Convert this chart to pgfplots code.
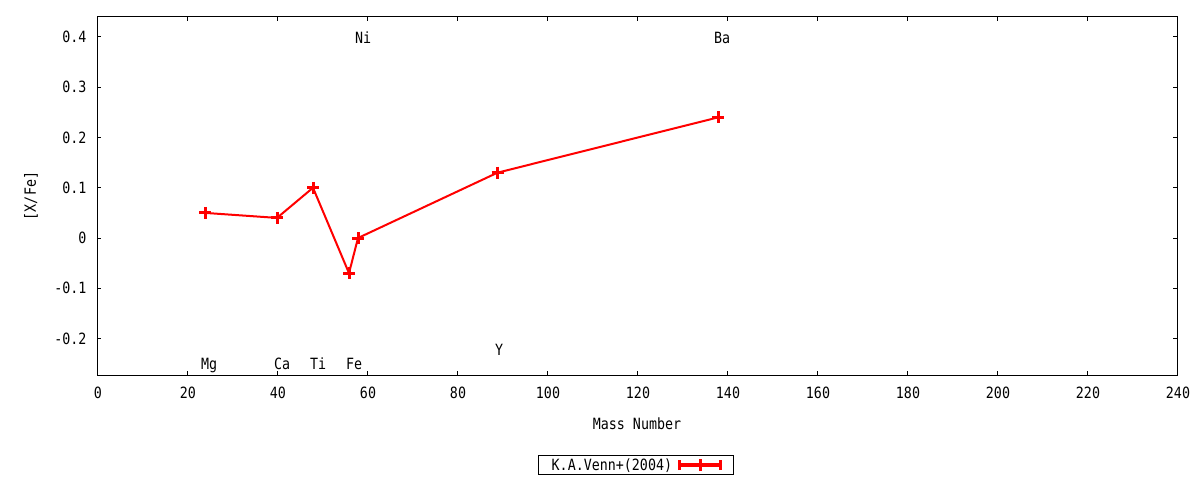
\documentclass[border=0pt]{standalone}
\usepackage{fontspec}
\setmainfont{DejaVu Sans Mono}[FakeStretch=0.86]
\usepackage{pgfplots}
\pgfplotsset{compat=1.18}
\begin{document}
\begin{tikzpicture}
\path[use as bounding box] (0,0) rectangle (1200pt,480pt);
\begin{axis}[
  at={(97pt,105pt)}, anchor=south west,
  scale only axis, width=1080pt, height=358pt,
  xmin=0, xmax=240, ymin=-0.2726, ymax=0.4398,
  xtick={0,20,...,240},
  ytick={-0.2,-0.1,0,0.1,0.2,0.3,0.4},
  yticklabels={-0.2,-0.1,0,0.1,0.2,0.3,0.4},
  xticklabels={0,20,40,60,80,100,120,140,160,180,200,220,240},
  tick align=inside, major tick length=4pt,
  axis line style={line width=1pt},
  every tick/.style={black, line width=1pt},
  font=\fontsize{15.5}{18}\selectfont,
  /pgf/number format/assume math mode=true,
  xticklabel style={yshift=-8pt, xshift=1pt},
  yticklabel style={xshift=-7pt},
  xlabel={Mass Number},
  ylabel={[X/Fe]},
  xlabel style={at={(axis description cs:0.5,-0.137)},anchor=center},
  ylabel style={at={(axis description cs:-0.0611,0.5)},anchor=center},
  legend plot pos=right,
  legend style={at={(0.499,-0.2514)},anchor=center, draw=black, line width=1pt,
    font=\fontsize{15.5}{18}\selectfont, inner xsep=9pt, inner ysep=1pt,
    nodes={inner xsep=4pt}},
  legend image code/.code={
    \draw[red, line width=4pt] (0pt,0pt) -- (44pt,0pt);
    \draw[red, line width=3pt] (1.5pt,-5pt) -- (1.5pt,5pt);
    \draw[red, line width=3pt] (42.5pt,-5pt) -- (42.5pt,5pt);
    \draw[red, line width=3pt] (22pt,-6pt) -- (22pt,6pt);
  },
]
\addplot[red, line width=2pt, mark=+, mark size=6pt, mark options={line width=3pt}]
  coordinates {(24,0.05) (40,0.04) (48,0.10) (56,-0.07) (58,0.00) (89,0.13) (138,0.24)};
\addlegendentry{K.A.Venn+(2004)}
\begin{scope}[every node/.style={anchor=base west, inner sep=0pt}]
\node at (axis cs:23.1,-0.2607) {Mg};
\node at (axis cs:39.3,-0.2607) {Ca};
\node at (axis cs:47.3,-0.2607) {Ti};
\node at (axis cs:55.3,-0.2607) {Fe};
\node at (axis cs:57.3,0.388) {Ni};
\node at (axis cs:88.4,-0.233) {Y};
\node at (axis cs:137.1,0.388) {Ba};
\end{scope}
\end{axis}
\end{tikzpicture}
\end{document}
